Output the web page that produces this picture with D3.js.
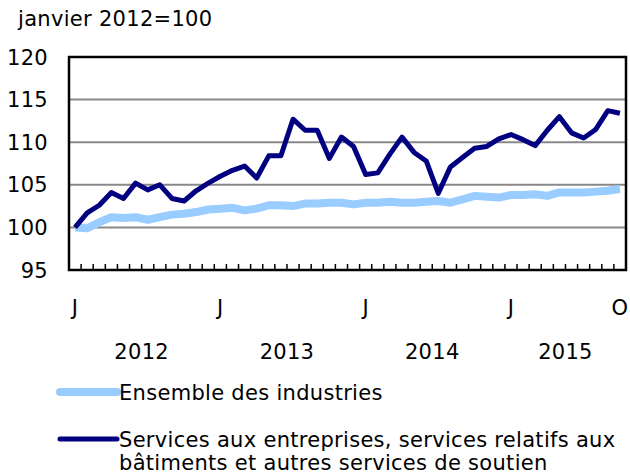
<!DOCTYPE html>
<html>
<head>
<meta charset="utf-8">
<script src="https://cdn.jsdelivr.net/npm/d3@7"></script>
<style>
  body { margin: 0; background: #fff; }
  text { font-family: "DejaVu Sans", Verdana, sans-serif; fill: #000; letter-spacing: 0.3px; }
</style>
</head>
<body>
<div id="chart"></div>
<script>
// monthly index, janvier 2012 = 100 (Jan 2012 .. Oct 2015)
const months = d3.range(46);
const allIndustries = [
  100.0, 99.9, 100.6, 101.2, 101.1, 101.2, 100.9, 101.2, 101.5, 101.6, 101.8, 102.1,
  102.2, 102.3, 102.0, 102.2, 102.6, 102.6, 102.5, 102.8, 102.8, 102.9, 102.9, 102.7,
  102.9, 102.9, 103.0, 102.9, 102.9, 103.0, 103.1, 102.9, 103.3, 103.7, 103.6, 103.5,
  103.8, 103.8, 103.9, 103.7, 104.1, 104.1, 104.1, 104.2, 104.3, 104.5
];
const businessServices = [
  100.0, 101.7, 102.6, 104.1, 103.4, 105.2, 104.4, 105.0, 103.4, 103.1, 104.3, 105.2,
  106.0, 106.7, 107.2, 105.8, 108.4, 108.4, 112.7, 111.4, 111.4, 108.1, 110.6, 109.5,
  106.2, 106.4, 108.6, 110.6, 108.8, 107.8, 104.0, 107.1, 108.2, 109.3, 109.5, 110.4,
  110.9, 110.3, 109.6, 111.4, 113.0, 111.1, 110.5, 111.5, 113.7, 113.4
];
const yTicks = [95, 100, 105, 110, 115, 120];
const monthLabels = [[0, "J"], [12, "J"], [24, "J"], [36, "J"], [45, "O"]];
const years = [["2012", 0, 11], ["2013", 12, 23], ["2014", 24, 35], ["2015", 36, 45]];
const seriesNames = ["Ensemble des industries",
  ["Services aux entreprises, services relatifs aux", "bâtiments et autres services de soutien"]];

const width = 630, height = 474;
const plot = {left: 69, right: 626, top: 57, bottom: 270};
const fontSize = 21;

const svg = d3.select("#chart").append("svg")
    .attr("width", width)
    .attr("height", height);

const x = d3.scaleBand().domain(months).range([plot.left, plot.right]);
const y = d3.scaleLinear().domain([95, 120]).range([plot.bottom, plot.top]);
const xc = i => x(i) + x.bandwidth() / 2;

// unit label
svg.append("text")
    .attr("x", 18).attr("y", 26)
    .style("font-size", fontSize + "px")
    .text("janvier 2012=100");

// gridlines
svg.append("g").selectAll("line")
    .data(yTicks.slice(1, -1))
    .join("line")
    .attr("x1", plot.left).attr("x2", plot.right)
    .attr("y1", d => y(d)).attr("y2", d => y(d))
    .attr("stroke", "#888").attr("stroke-width", 2);

// y labels
svg.append("g").selectAll("text")
    .data(yTicks)
    .join("text")
    .attr("x", 48)
    .attr("y", d => y(d))
    .attr("dy", "0.36em")
    .attr("text-anchor", "end")
    .style("font-size", fontSize + "px")
    .text(d => d);

// month tick marks on the inside of the bottom edge
svg.append("g").selectAll("line")
    .data(months.slice(1))
    .join("line")
    .attr("x1", d => x(d)).attr("x2", d => x(d))
    .attr("y1", plot.bottom).attr("y2", plot.bottom - 6)
    .attr("stroke", "#000").attr("stroke-width", 1.5);

// lines
const line = d3.line().x((d, i) => xc(i)).y(d => y(d));

svg.append("path")
    .datum(allIndustries)
    .attr("fill", "none")
    .attr("stroke", "#99ccff")
    .attr("stroke-width", 8)
    .attr("stroke-linejoin", "round")
    .attr("d", line);

svg.append("path")
    .datum(businessServices)
    .attr("fill", "none")
    .attr("stroke", "#000080")
    .attr("stroke-width", 5)
    .attr("stroke-linejoin", "round")
    .attr("d", line);

// frame
svg.append("rect")
    .attr("x", plot.left).attr("y", plot.top)
    .attr("width", plot.right - plot.left)
    .attr("height", plot.bottom - plot.top)
    .attr("fill", "none")
    .attr("stroke", "#000")
    .attr("stroke-width", 2.5);

// month letters
svg.append("g").selectAll("text")
    .data(monthLabels)
    .join("text")
    .attr("x", d => xc(d[0]))
    .attr("y", 307)
    .attr("dy", "0.36em")
    .attr("text-anchor", "middle")
    .style("font-size", fontSize + "px")
    .text(d => d[1]);

// years
svg.append("g").selectAll("text")
    .data(years)
    .join("text")
    .attr("x", d => (x(d[1]) + x(d[2]) + x.bandwidth()) / 2)
    .attr("y", 351)
    .attr("dy", "0.36em")
    .attr("text-anchor", "middle")
    .style("font-size", fontSize + "px")
    .text(d => d[0]);

// legend
const legend = svg.append("g");
legend.append("line")
    .attr("x1", 60).attr("x2", 117).attr("y1", 392).attr("y2", 392)
    .attr("stroke", "#99ccff").attr("stroke-width", 8).attr("stroke-linecap", "round");
legend.append("text")
    .attr("x", 119).attr("y", 392).attr("dy", "0.36em")
    .style("font-size", fontSize + "px")
    .text(seriesNames[0]);

legend.append("line")
    .attr("x1", 60).attr("x2", 117).attr("y1", 439).attr("y2", 439)
    .attr("stroke", "#000080").attr("stroke-width", 5).attr("stroke-linecap", "round");
legend.append("text")
    .attr("x", 119).attr("y", 439).attr("dy", "0.36em")
    .style("font-size", fontSize + "px")
    .text(seriesNames[1][0]);
legend.append("text")
    .attr("x", 119).attr("y", 462).attr("dy", "0.36em")
    .style("font-size", fontSize + "px")
    .text(seriesNames[1][1]);
</script>
</body>
</html>
